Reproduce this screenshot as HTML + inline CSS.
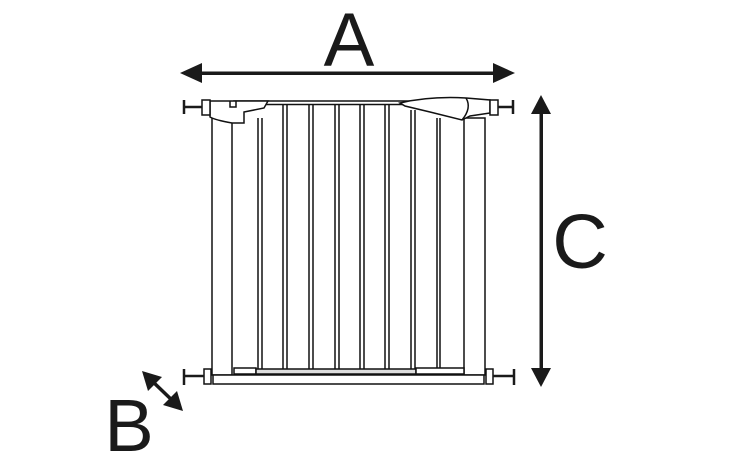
<!DOCTYPE html>
<html><head><meta charset="utf-8"><style>html,body{margin:0;padding:0;background:#fff}svg{display:block}</style></head>
<body>
<svg width="730" height="470" viewBox="0 0 730 470" xmlns="http://www.w3.org/2000/svg">
<g font-family="Liberation Sans, sans-serif" fill="#1a1a1a">
<text x="349" y="66" font-size="76" text-anchor="middle">A</text>
<text x="580" y="268" font-size="77" text-anchor="middle">C</text>
<text x="129" y="451" font-size="74" text-anchor="middle">B</text>
</g>
<g fill="#1a1a1a" stroke="none">
<rect x="196" y="71.5" width="302" height="3.5"/>
<polygon points="180,73 202,63 202,83"/>
<polygon points="515,73 493,63 493,83"/>
<rect x="539.5" y="110" width="3.5" height="262"/>
<polygon points="541,95 531,114 551,114"/>
<polygon points="541,387 531,368 551,368"/>
<line x1="150" y1="379" x2="176" y2="404" stroke="#1a1a1a" stroke-width="3.5"/>
<polygon points="142,371 162,377 148,391"/>
<polygon points="183,411 163,405 177,391"/>
</g>
<g fill="none" stroke="#111" stroke-width="1.5">
<rect x="212" y="118" width="20" height="257"/>
<rect x="464" y="118" width="21" height="257"/>
<path d="M258 118V369M262 118V369M283 104V369M287 104V369M309 104V369M313 104V369M335 104V369M339 104V369M360 104V369M364 104V369M385 104V369M389 104V369M411 110V369M415 110V369M437 118V369M440 118V369"/>
<rect x="234" y="101" width="190" height="3.5" fill="#fff"/>
<path d="M210 101H268L264 108L244 112V123L232 123Q215 120 210 117Z" fill="#fff"/>
<path d="M230 101V107H236V101"/>
<path d="M400 103Q430 96 466 98L490 100V113L470 116L462 120L430 112L405 106Z" fill="#fff"/>
<path d="M466 98Q472 108 462 120"/>
<rect x="213" y="375" width="271" height="9" fill="#fff"/>
<rect x="234" y="368" width="22" height="6" fill="#fff"/>
<rect x="256" y="369" width="160" height="5" fill="#ddd"/>
<rect x="416" y="368" width="48" height="6" fill="#fff"/>
<rect x="202" y="100" width="8" height="15" fill="#fff"/>
<rect x="490" y="100" width="8" height="15" fill="#fff"/>
<rect x="204" y="369" width="7" height="15" fill="#fff"/>
<rect x="486" y="369" width="7" height="15" fill="#fff"/>
</g>
<g stroke="#1a1a1a" stroke-width="2.5">
<path d="M184 100V114M184 107H202"/>
<path d="M513 100V114M498 107H513"/>
<path d="M184 369V385M184 376H204"/>
<path d="M514 369V385M493 376H514"/>
</g>
</svg>
</body></html>
